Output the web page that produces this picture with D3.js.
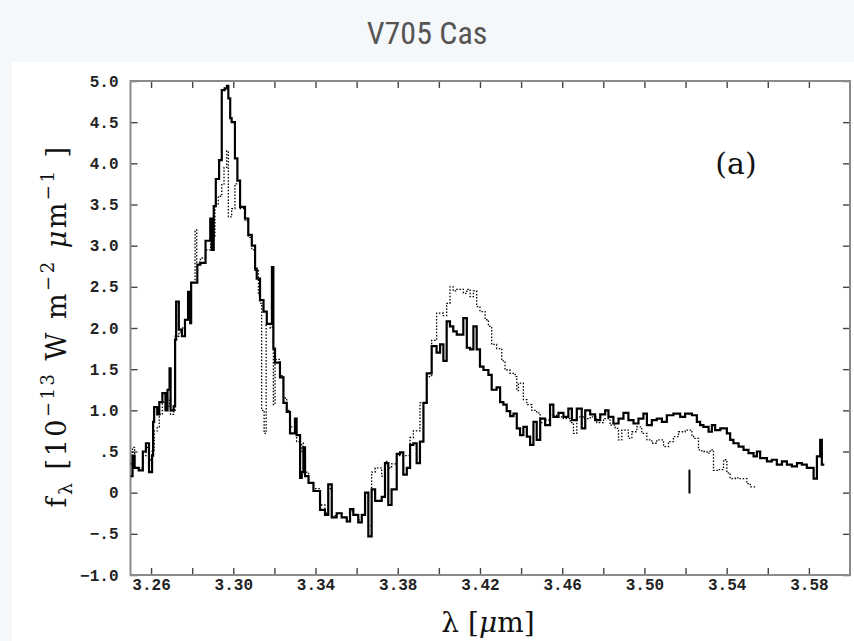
<!DOCTYPE html>
<html><head><meta charset="utf-8">
<script src="https://cdn.jsdelivr.net/npm/d3@7"></script>
<style>body{margin:0;background:#f5f8fb;} svg{display:block}</style>
</head><body>
<svg id="c" width="854" height="641"></svg>
<script>
// ---- data ----
const solidWave = [3.2500,3.2510,3.2520,3.2540,3.2560,3.2575,3.2590,3.2605,3.2610,3.2615,3.2630,3.2640,3.2655,3.2670,3.2680,3.2690,3.2695,3.2710,3.2717,3.2722,3.2735,3.2750,3.2765,3.2780,3.2790,3.2795,3.2825,3.2840,3.2865,3.2888,3.2895,3.2905,3.2915,3.2931,3.2944,3.2958,3.2969,3.2976,3.2985,3.2992,3.3008,3.3020,3.3033,3.3057,3.3073,3.3090,3.3106,3.3114,3.3130,3.3147,3.3163,3.3188,3.3195,3.3203,3.3227,3.3244,3.3260,3.3276,3.3300,3.3308,3.3325,3.3333,3.3341,3.3349,3.3366,3.3390,3.3422,3.3446,3.3462,3.3479,3.3503,3.3527,3.3552,3.3568,3.3584,3.3608,3.3625,3.3641,3.3657,3.3673,3.3690,3.3722,3.3738,3.3754,3.3770,3.3795,3.3811,3.3827,3.3844,3.3860,3.3876,3.3892,3.3908,3.3925,3.3941,3.3965,3.3989,3.4006,3.4022,3.4038,3.4054,3.4070,3.4087,3.4119,3.4136,3.4152,3.4168,3.4184,3.4200,3.4217,3.4241,3.4257,3.4281,3.4298,3.4314,3.4330,3.4347,3.4363,3.4379,3.4395,3.4411,3.4428,3.4444,3.4460,3.4476,3.4493,3.4517,3.4541,3.4557,3.4582,3.4606,3.4630,3.4647,3.4671,3.4695,3.4712,3.4736,3.4760,3.4785,3.4809,3.4825,3.4849,3.4874,3.4898,3.4922,3.4947,3.4971,3.4995,3.5012,3.5036,3.5060,3.5085,3.5109,3.5141,3.5174,3.5198,3.5231,3.5255,3.5271,3.5287,3.5312,3.5328,3.5344,3.5369,3.5401,3.5417,3.5433,3.5458,3.5482,3.5506,3.5531,3.5547,3.5563,3.5596,3.5620,3.5644,3.5669,3.5693,3.5717,3.5742,3.5766,3.5790,3.5823,3.5839,3.5855,3.5863,3.5875];
const solidFlux = [0.20,0.45,0.30,0.27,0.50,0.60,0.25,0.45,0.86,1.04,0.95,1.10,1.21,1.00,1.25,1.51,1.00,1.05,1.86,2.32,1.98,1.90,2.10,2.44,2.06,2.55,2.77,2.79,3.06,3.33,2.95,3.48,3.81,4.04,4.89,4.91,4.94,4.79,4.55,4.50,4.06,3.79,3.47,3.33,3.13,3.00,2.72,2.60,2.34,2.20,2.05,2.74,1.75,1.58,1.40,1.09,0.98,0.72,0.90,0.70,0.18,0.25,0.55,0.20,0.12,0.02,-0.21,-0.27,0.10,-0.30,-0.25,-0.30,-0.35,-0.20,-0.27,-0.36,-0.27,0.00,-0.53,0.04,-0.10,-0.05,0.36,-0.15,0.04,0.47,0.49,0.22,0.30,0.58,0.60,0.36,0.62,1.09,1.45,1.78,1.70,1.80,1.60,2.08,2.02,1.96,1.92,2.12,1.76,1.74,2.02,1.74,1.53,1.49,1.43,1.25,1.28,1.10,1.07,0.99,0.93,0.96,0.78,0.70,0.80,0.68,0.58,0.86,0.64,0.90,0.82,1.07,0.92,0.97,0.92,1.02,0.88,1.02,0.78,1.00,0.95,0.88,0.95,1.00,0.92,0.84,0.90,0.97,0.88,0.84,0.90,0.96,0.82,0.88,0.90,0.86,0.94,0.96,0.92,0.96,0.94,0.86,0.82,0.80,0.74,0.82,0.76,0.78,0.72,0.64,0.60,0.56,0.52,0.48,0.44,0.50,0.42,0.38,0.40,0.34,0.38,0.34,0.32,0.36,0.34,0.30,0.17,0.44,0.64,0.34,0.34];

const dottedWave = [3.2500,3.2510,3.2520,3.2540,3.2560,3.2575,3.2590,3.2605,3.2615,3.2630,3.2640,3.2655,3.2670,3.2690,3.2695,3.2710,3.2717,3.2735,3.2750,3.2765,3.2780,3.2795,3.2814,3.2822,3.2840,3.2865,3.2890,3.2911,3.2927,3.2944,3.2955,3.2968,3.2976,3.2992,3.3008,3.3033,3.3057,3.3073,3.3090,3.3106,3.3122,3.3130,3.3138,3.3150,3.3160,3.3180,3.3190,3.3195,3.3203,3.3227,3.3244,3.3260,3.3276,3.3300,3.3308,3.3325,3.3333,3.3341,3.3349,3.3366,3.3390,3.3422,3.3446,3.3462,3.3479,3.3503,3.3527,3.3552,3.3568,3.3584,3.3608,3.3625,3.3641,3.3657,3.3673,3.3690,3.3722,3.3738,3.3754,3.3770,3.3795,3.3827,3.3860,3.3876,3.3908,3.3941,3.3965,3.3989,3.4022,3.4038,3.4054,3.4070,3.4087,3.4119,3.4136,3.4152,3.4168,3.4184,3.4200,3.4225,3.4241,3.4257,3.4281,3.4306,3.4322,3.4346,3.4371,3.4379,3.4387,3.4411,3.4428,3.4452,3.4476,3.4493,3.4517,3.4541,3.4573,3.4606,3.4639,3.4655,3.4671,3.4704,3.4736,3.4768,3.4801,3.4833,3.4858,3.4874,3.4890,3.4922,3.4939,3.4963,3.4987,3.5012,3.5036,3.5060,3.5093,3.5117,3.5141,3.5166,3.5198,3.5231,3.5239,3.5263,3.5279,3.5304,3.5320,3.5336,3.5360,3.5385,3.5401,3.5417,3.5442,3.5466,3.5498,3.5515,3.5539];
const dottedFlux = [0.35,0.55,0.30,0.30,0.45,0.55,0.40,0.50,0.75,0.80,0.95,1.10,1.05,1.15,0.95,1.00,1.90,1.95,2.00,2.10,2.15,2.55,3.19,2.80,2.85,2.95,3.10,3.50,3.60,3.75,3.95,4.15,3.35,3.45,3.75,3.45,3.30,3.10,2.95,2.70,2.40,2.30,1.00,0.72,2.05,2.00,2.74,1.07,1.62,1.42,1.15,1.00,0.80,0.75,0.62,0.50,0.60,0.45,0.25,0.12,0.05,-0.15,-0.25,0.05,-0.28,-0.25,-0.30,-0.35,-0.22,-0.27,-0.33,-0.27,-0.05,-0.40,0.25,0.30,0.20,0.38,0.30,0.35,0.45,0.45,0.67,0.75,1.09,1.41,1.85,2.18,2.15,2.30,2.50,2.45,2.47,2.42,2.47,2.38,2.45,2.26,2.20,2.10,2.02,1.80,1.75,1.60,1.49,1.45,1.41,1.24,1.33,1.13,1.07,1.00,0.97,0.85,0.88,0.94,0.92,0.90,0.85,0.72,0.92,0.90,0.92,0.85,0.90,0.82,0.78,0.64,0.76,0.66,0.74,0.80,0.72,0.64,0.60,0.64,0.56,0.62,0.68,0.74,0.76,0.70,0.66,0.52,0.50,0.48,0.52,0.27,0.28,0.40,0.24,0.17,0.18,0.17,0.11,0.07,0.07];

const markerWave = [3.5219, 3.5219];
const markerFlux = [0.28, -0.01];

const xTicks = [3.26,3.28,3.30,3.32,3.34,3.36,3.38,3.40,3.42,3.44,3.46,3.48,3.50,3.52,3.54,3.56,3.58];
const xTickLabels = ["3.26","","3.30","","3.34","","3.38","","3.42","","3.46","","3.50","","3.54","","3.58"];
const yTicks = [5.0,4.5,4.0,3.5,3.0,2.5,2.0,1.5,1.0,0.5,0,-0.5,-1.0];
const yTickLabels = ["5.0","4.5","4.0","3.5","3.0","2.5","2.0","1.5","1.0",".5","0","\u2212.5","\u22121.0"];

// ---- drawing ----
const svg = d3.select('#c');
svg.append('rect').attr('x',0).attr('y',0).attr('width',854).attr('height',641).attr('fill','#f5f8fb');
svg.append('rect').attr('x',12).attr('y',62).attr('width',842).attr('height',579).attr('fill','#ffffff');

svg.append('text').attr('x',427).attr('y',44).attr('text-anchor','middle')
  .attr('font-family','"Liberation Sans Narrow", "Roboto Condensed", Roboto, sans-serif').attr('font-size',32)
  .attr('fill','#555').text('V705 Cas');

const x = d3.scaleLinear().domain([3.25,3.60]).range([130.5,850]);
const y = d3.scaleLinear().domain([-1,5]).range([575,81]);

svg.append('defs').append('clipPath').attr('id','clip').append('rect')
  .attr('x',x(3.25)).attr('y',y(5)).attr('width',x(3.60)-x(3.25)).attr('height',y(-1)-y(5));

const tickFont = '"Liberation Mono", "DejaVu Sans Mono", monospace';
function styleAxis(g, showLabels){
  g.select('.domain').remove();
  g.selectAll('.tick line').attr('stroke','#444').attr('stroke-width',1.4);
  g.selectAll('.tick text').attr('font-family',tickFont).attr('font-size',16).attr('font-weight','bold').attr('fill','#222')
    .style('display', showLabels ? null : 'none');
}
const xFmt = (d,i)=>xTickLabels[i];
const yFmt = (d,i)=>yTickLabels[i];

svg.append('g').attr('transform',`translate(0,${y(-1)})`)
  .call(d3.axisBottom(x).tickValues(xTicks).tickFormat(xFmt).tickSizeInner(-7).tickSizeOuter(0).tickPadding(4))
  .call(g=>styleAxis(g,true));
svg.append('g').attr('transform',`translate(0,${y(5)})`)
  .call(d3.axisTop(x).tickValues(xTicks).tickFormat('').tickSizeInner(-7).tickSizeOuter(0))
  .call(g=>styleAxis(g,false));
svg.append('g').attr('transform',`translate(${x(3.25)},0)`)
  .call(d3.axisLeft(y).tickValues(yTicks).tickFormat(yFmt).tickSizeInner(-7).tickSizeOuter(0).tickPadding(12))
  .call(g=>styleAxis(g,true));
svg.append('g').attr('transform',`translate(${x(3.60)},0)`)
  .call(d3.axisRight(y).tickValues(yTicks).tickFormat('').tickSizeInner(-7).tickSizeOuter(0))
  .call(g=>styleAxis(g,false));

svg.append('rect').attr('x',x(3.25)).attr('y',y(5)).attr('width',x(3.60)-x(3.25)).attr('height',y(-1)-y(5))
  .attr('fill','none').attr('stroke','#8a8a8a').attr('stroke-width',2);

const step = d3.line().x(d=>x(d[0])).y(d=>y(d[1])).curve(d3.curveStepAfter);
const plot = svg.append('g').attr('clip-path','url(#clip)');

const dotted = dottedWave.map((w,i)=>[w,dottedFlux[i]]);
const solid = solidWave.map((w,i)=>[w,solidFlux[i]]);
const marker = markerWave.map((w,i)=>[w,markerFlux[i]]);

plot.append('path').attr('d',step(dotted)).attr('fill','none').attr('stroke','#000')
  .attr('stroke-width',1.3).attr('stroke-dasharray','1.5,1.7');
plot.append('path').attr('d',step(solid)).attr('fill','none').attr('stroke','#000')
  .attr('stroke-width',2.2).attr('stroke-linejoin','miter');
plot.append('path').attr('d',d3.line().x(d=>x(d[0])).y(d=>y(d[1]))(marker)).attr('fill','none')
  .attr('stroke','#000').attr('stroke-width',2);

svg.append('text').attr('x',736).attr('y',174).attr('text-anchor','middle')
  .attr('font-family','"DejaVu Serif", serif').attr('font-size',30).attr('fill','#111').text('(a)');

// x axis title
const xt = svg.append('text').attr('x',488).attr('y',632).attr('text-anchor','middle')
  .attr('font-family','"DejaVu Serif", serif').attr('font-size',28).attr('fill','#111');
xt.append('tspan').text('\u03bb [');
xt.append('tspan').attr('font-style','italic').text('\u03bc');
xt.append('tspan').text('m]');

// y axis title
const yt = svg.append('text').attr('transform','translate(66,326) rotate(-90)').attr('text-anchor','middle')
  .attr('font-family','"DejaVu Serif", serif').attr('font-size',27).attr('letter-spacing',2.5).attr('fill','#111');
yt.append('tspan').text('f');
yt.append('tspan').attr('font-size',19).attr('dy',6).text('\u03bb');
yt.append('tspan').attr('dy',-6).text(' [10');
yt.append('tspan').attr('font-size',18).attr('dy',-12).text('\u221213');
yt.append('tspan').attr('dy',12).text('  W m');
yt.append('tspan').attr('font-size',18).attr('dy',-12).text('\u22122');
yt.append('tspan').attr('dy',12).attr('font-style','italic').text(' \u03bc');
yt.append('tspan').text('m');
yt.append('tspan').attr('font-size',18).attr('dy',-12).text('\u22121');
yt.append('tspan').attr('dy',12).text(' ]');
</script>
</body></html>
